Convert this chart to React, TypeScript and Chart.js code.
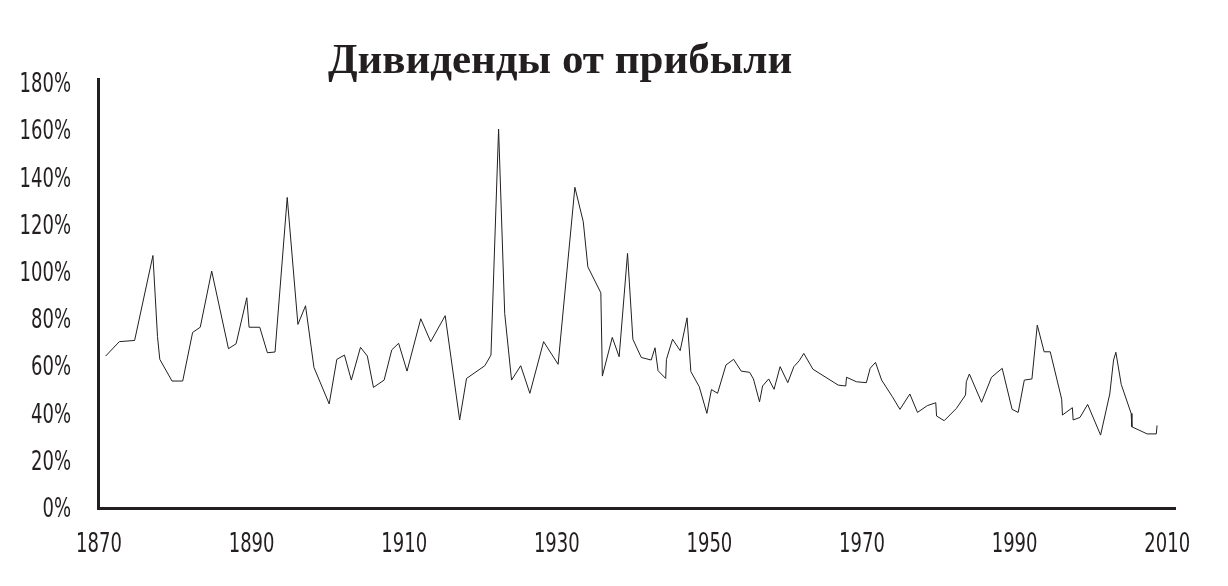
import React, { useEffect, useRef } from "react";
import { Chart, registerables } from "chart.js";

Chart.register(...registerables);

const TITLE = "Дивиденды от прибыли";

const YEARS: number[] = [
  1871.0, 1872.8, 1874.8, 1877.2, 1877.8, 1878.1, 1879.7, 1881.1, 1882.4, 1883.4,
  1884.9, 1887.1, 1888.1, 1889.5, 1889.8, 1891.2, 1892.2, 1893.2, 1894.8, 1896.2,
  1897.2, 1898.3, 1900.3, 1901.3, 1902.3, 1903.2, 1904.4, 1905.3, 1906.1, 1907.5,
  1908.5, 1909.4, 1910.5, 1912.3, 1913.6, 1915.5, 1917.4, 1918.3, 1920.7, 1921.5,
  1922.5, 1923.3, 1924.2, 1925.4, 1926.6, 1928.4, 1930.3, 1932.5, 1933.6, 1934.2,
  1935.9, 1936.1, 1937.4, 1938.3, 1939.4, 1940.1, 1941.2, 1942.5, 1943.0, 1943.4,
  1944.4, 1944.5, 1945.3, 1946.3, 1947.2, 1947.7, 1948.8, 1949.8, 1950.4, 1951.2,
  1952.3, 1953.3, 1954.3, 1955.4, 1955.9, 1956.7, 1957.1, 1957.9, 1958.6, 1959.4,
  1960.4, 1961.2, 1961.9, 1962.5, 1963.7, 1967.0, 1968.0, 1968.1, 1969.4, 1970.7,
  1971.2, 1971.9, 1972.7, 1974.1, 1975.1, 1976.4, 1977.4, 1978.7, 1979.8, 1979.9,
  1980.9, 1982.5, 1983.7, 1983.8, 1984.2, 1985.8, 1987.1, 1988.5, 1989.8, 1990.6,
  1991.4, 1992.4, 1993.1, 1994.0, 1994.8, 1996.3, 1996.4, 1997.7, 1997.8, 1998.7,
  1999.7, 2001.4, 2002.6, 2003.1, 2003.4, 2004.1, 2005.4, 2005.5, 2007.5, 2008.7,
  2008.8,
];

const PAYOUT: number[] = [
  64.4, 70.5, 71.0, 107.0, 72.6, 63.0, 53.8, 53.8, 74.4, 76.6,
  100.4, 67.5, 69.6, 89.1, 76.6, 76.6, 65.8, 66.1, 131.6, 77.8,
  85.7, 59.6, 44.1, 63.0, 64.8, 54.2, 68.1, 64.4, 51.1, 54.2,
  67.0, 69.8, 58.0, 80.2, 70.5, 81.5, 37.3, 54.9, 60.3, 64.8,
  160.6, 82.5, 54.2, 60.3, 48.6, 70.5, 60.9, 135.9, 121.3, 102.2,
  91.2, 55.9, 72.3, 64.1, 107.9, 71.5, 63.8, 62.7, 67.9, 58.2,
  54.9, 63.0, 71.5, 66.7, 80.6, 57.8, 51.4, 40.1, 50.2, 48.6,
  60.6, 63.0, 58.0, 57.5, 54.7, 45.0, 51.7, 54.7, 50.3, 59.9,
  53.1, 59.9, 62.4, 65.5, 58.8, 52.1, 51.7, 55.4, 53.5, 53.1,
  59.2, 61.7, 54.2, 47.2, 41.8, 48.3, 40.5, 43.4, 44.6, 39.0,
  37.0, 42.2, 47.9, 53.5, 56.8, 44.8, 55.4, 59.2, 41.8, 40.5,
  54.2, 54.7, 77.5, 66.2, 66.2, 46.1, 39.4, 42.5, 37.3, 38.4,
  43.9, 30.9, 48.3, 62.7, 66.0, 52.4, 40.1, 34.4, 31.4, 31.4,
  35.0,
];

const X_TICKS: number[] = [1870, 1890, 1910, 1930, 1950, 1970, 1990, 2010];
const Y_TICKS: number[] = [0, 20, 40, 60, 80, 100, 120, 140, 160, 180];

const INK = "#231f20";
const TICK_FONT = "'DejaVu Sans Condensed', 'DejaVu Sans', sans-serif";
const SQUEEZE = 0.77;

const titlePlugin = {
  id: "customTitle",
  afterDraw(chart: any) {
    const { ctx, chartArea } = chart;
    ctx.save();
    ctx.font = "bold 43px 'Liberation Serif', serif";
    ctx.fillStyle = INK;
    ctx.textAlign = "center";
    ctx.textBaseline = "alphabetic";
    const cx = chartArea.left + (chartArea.right - chartArea.left) * 0.429;
    ctx.fillText(TITLE, cx, chartArea.top - 6);
    ctx.restore();
  },
};

// Condensed tick labels placed with the chart's own scales
const tickLabelPlugin = {
  id: "condensedTicks",
  afterDraw(chart: any) {
    const { ctx } = chart;
    const xs = chart.scales.x;
    const ys = chart.scales.y;
    ctx.save();
    ctx.font = `26px ${TICK_FONT}`;
    ctx.fillStyle = INK;
    ctx.textBaseline = "alphabetic";
    ctx.textAlign = "right";
    for (const v of Y_TICKS) {
      const py = ys.getPixelForValue(v);
      ctx.save();
      ctx.translate(ys.right - 27, py + 9);
      ctx.scale(SQUEEZE, 1);
      ctx.fillText(`${v}%`, 0, 0);
      ctx.restore();
    }
    ctx.textAlign = "center";
    for (const v of X_TICKS) {
      const px = xs.getPixelForValue(v);
      ctx.save();
      ctx.translate(px + 1, xs.top + 44);
      ctx.scale(SQUEEZE, 1);
      ctx.fillText(String(v), 0, 0);
      ctx.restore();
    }
    ctx.restore();
  },
};

export default function App() {
  const canvasRef = useRef<HTMLCanvasElement | null>(null);

  useEffect(() => {
    if (!canvasRef.current) return;
    const points = YEARS.map((x, i) => ({ x, y: PAYOUT[i] }));
    const chart = new Chart(canvasRef.current, {
      type: "line",
      data: {
        datasets: [
          {
            data: points,
            borderColor: INK,
            borderWidth: 1,
            pointRadius: 0,
            tension: 0,
            fill: false,
          },
        ],
      },
      options: {
        animation: false,
        responsive: true,
        maintainAspectRatio: false,
        layout: { padding: { top: 71, right: 45, left: 0, bottom: 0 } },
        plugins: {
          legend: { display: false },
          title: { display: false },
          tooltip: { enabled: false },
        },
        scales: {
          x: {
            type: "linear",
            min: 1870,
            max: 2011.15,
            grid: { display: false, drawTicks: false },
            border: { display: true, color: INK, width: 3 },
            afterBuildTicks: (scale: any) => {
              scale.ticks = X_TICKS.map((v) => ({ value: v }));
            },
            afterFit: (scale: any) => {
              scale.height = 70;
            },
            ticks: { display: false },
          },
          y: {
            type: "linear",
            min: 0,
            max: 181.8,
            grid: { display: false, drawTicks: false },
            border: { display: true, color: INK, width: 3 },
            afterBuildTicks: (scale: any) => {
              scale.ticks = Y_TICKS.map((v) => ({ value: v }));
            },
            afterFit: (scale: any) => {
              scale.width = 90;
            },
            ticks: { display: false },
          },
        },
      },
      plugins: [titlePlugin, tickLabelPlugin],
    });
    return () => chart.destroy();
  }, []);

  return (
    <div style={{ position: "relative", width: "1212px", height: "570px" }}>
      <canvas ref={canvasRef} />
    </div>
  );
}
